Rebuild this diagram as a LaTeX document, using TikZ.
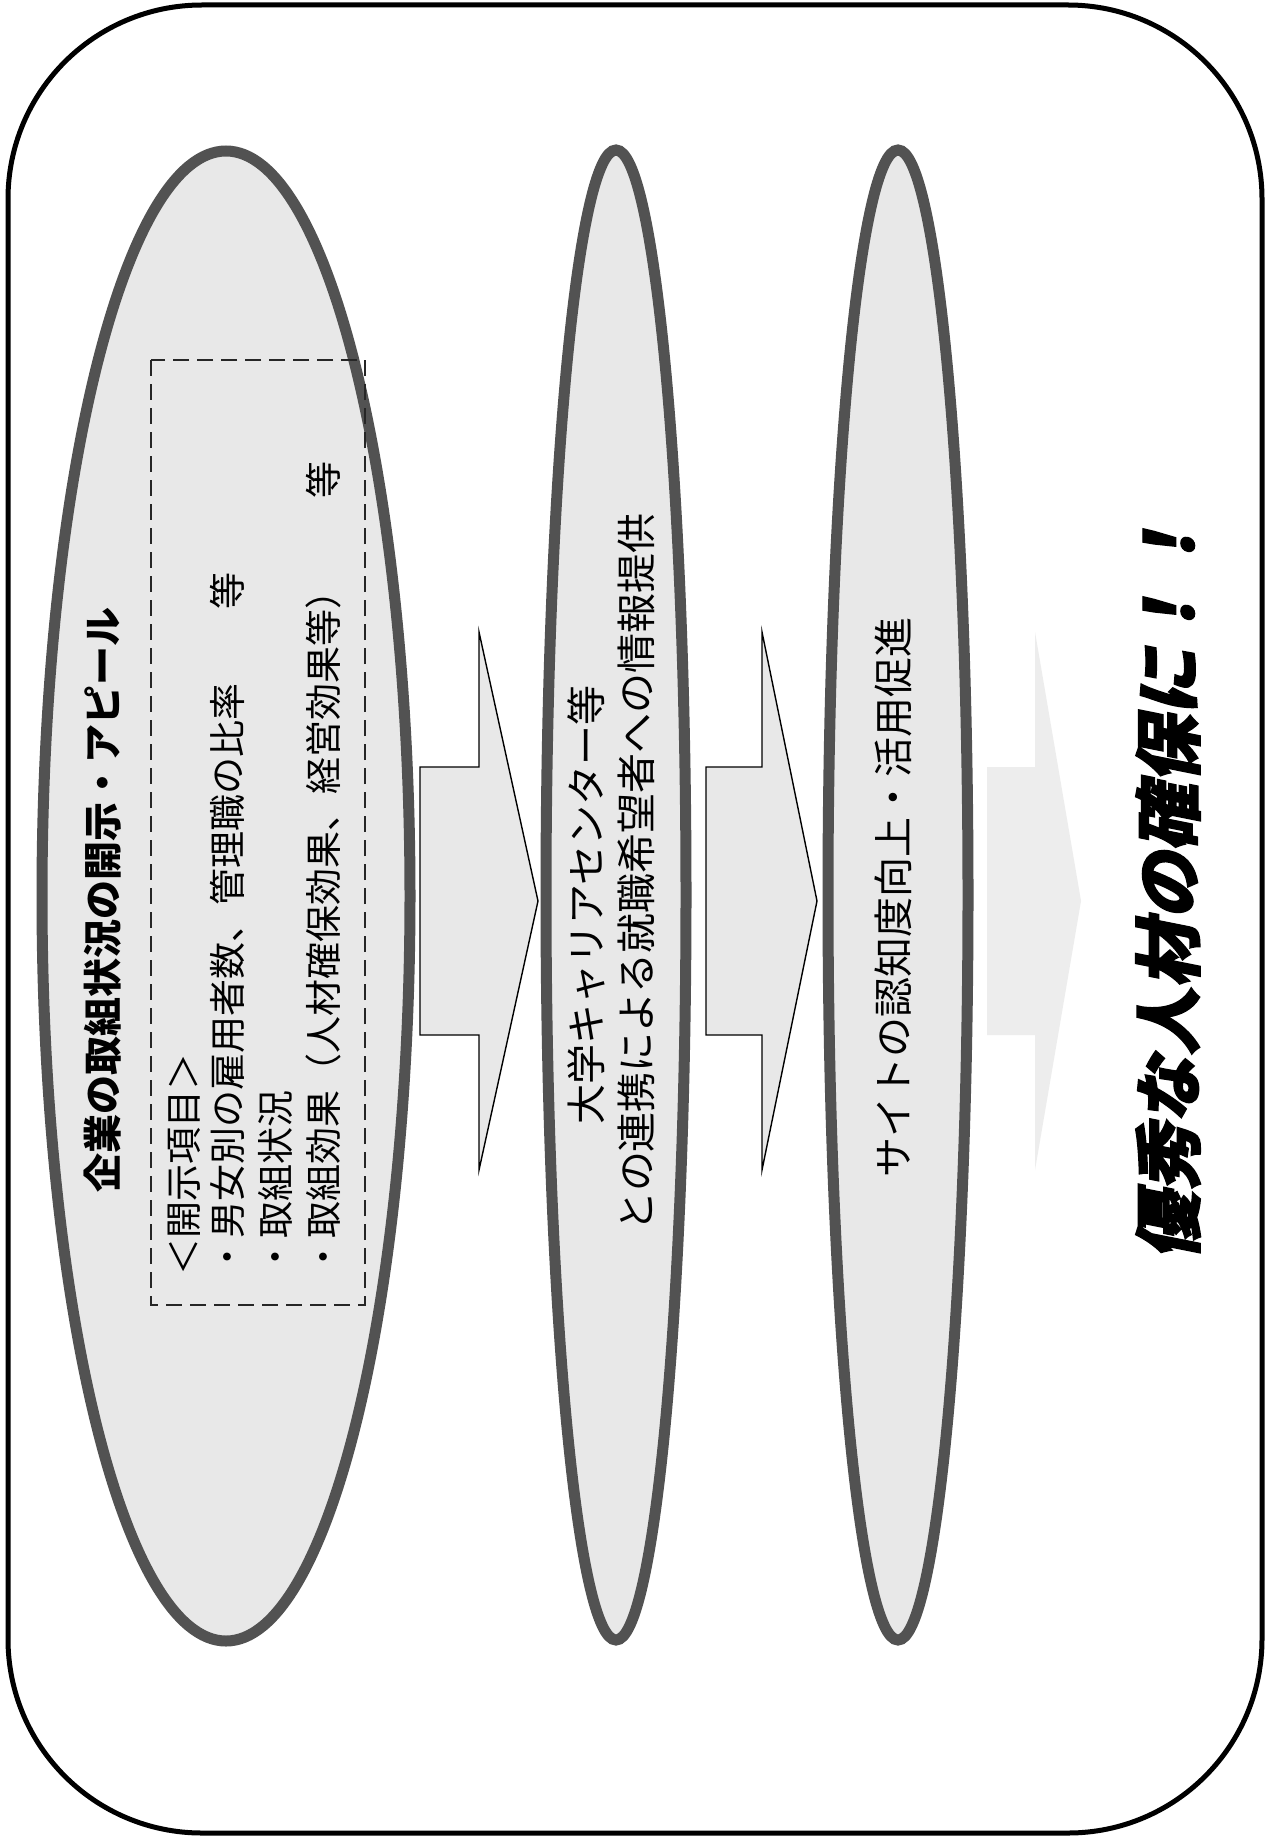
\documentclass[tikz,border=0pt]{standalone}
\usepackage{fontspec}
\usetikzlibrary{shapes.geometric}
\newfontfamily\jp{Noto Sans CJK JP}
\newfontfamily\jpheavy{Noto Sans CJK JP}[BoldFeatures={FakeBold=2,FakeSlant=0.2}]
\begin{document}
\begin{tikzpicture}[x=0.5pt,y=-0.5pt,
  oval/.style={ellipse, draw=black!68, line width=5.5pt, fill=black!9, inner sep=0pt, outer sep=0pt},
  blockarrow/.style={draw=black, line width=0.7pt, fill=black!9},
  fadearrow/.style={draw=none, fill=black!7},
  frame/.style={draw=black, line width=2.5pt, rounded corners=97pt},
  dashbox/.style={draw=black!85, line width=1.2pt, dash pattern=on 8pt off 4pt},
  rtext/.style={rotate=90, anchor=west, inner sep=0pt, text height=16.3pt, text depth=2.2pt,
    font=\jp\fontsize{18.5pt}{22pt}\selectfont},
  rtitle/.style={rotate=90, anchor=west, inner sep=0pt, text height=17.2pt, text depth=2.3pt,
    font=\jp\bfseries\fontsize{19.5pt}{23pt}\selectfont},
  rtextb/.style={rotate=90, anchor=west, inner sep=0pt, text height=17.6pt, text depth=2.4pt,
    font=\jp\fontsize{20pt}{24pt}\selectfont},
  rbig/.style={rotate=90, anchor=west, inner sep=0pt, text height=29.9pt, text depth=4.1pt,
    font=\jpheavy\bfseries\fontsize{34pt}{40pt}\selectfont}
]
\useasboundingbox (0,0) rectangle (1271,1840);
\fill[white] (0,0) rectangle (1271,1840);
% outer frame
\draw[frame] (8,5) rectangle (1262,1833);
% ellipses
\node[oval, minimum width=184pt, minimum height=745pt] (e1) at (226,896) {};
\node[oval, minimum width=70pt, minimum height=745pt] (e2) at (616,895) {};
\node[oval, minimum width=70pt, minimum height=745pt] (e3) at (898,895) {};
% block arrows
\filldraw[blockarrow] (420,767) -- (479,767) -- (479,632) -- (538,901) -- (479,1170) -- (479,1035) -- (420,1035) -- cycle;
\filldraw[blockarrow] (706,767) -- (762,767) -- (762,632) -- (817,901) -- (762,1170) -- (762,1035) -- (706,1035) -- cycle;
\fill[fadearrow] (987,767) -- (1035,767) -- (1035,632) -- (1081,901) -- (1035,1170) -- (1035,1035) -- (987,1035) -- cycle;
% dashed box
\draw[dashbox] (151,360) rectangle (365,1305);
% texts in ellipse 1
\node[rtitle] (t1) at (103,1193) {企業の取組状況の開示・アピール};
\node[rtext] (t2) at (183,1276) {＜開示項目＞};
\node[rtext] (t3) at (227,1276) {・男女別の雇用者数、管理職の比率　　等};
\node[rtext] (t4) at (275,1276) {・取組状況};
\node[rtext] (t5) at (323,1276) {・取組効果（人材確保効果、経営効果等）　　等};
% ellipse 2
\node[rtextb] (u1) at (586,1125) {大学キャリアセンター等};
\node[rtextb] (u2) at (636,1232) {との連携による就職希望者への情報提供};
% ellipse 3
\node[rtextb] (v1) at (893,1178) {サイトの認知度向上・活用促進};
% conclusion
\node[rbig] (w1) at (1168,1260) {優秀な人材の確保に！！};
\end{tikzpicture}
\end{document}
